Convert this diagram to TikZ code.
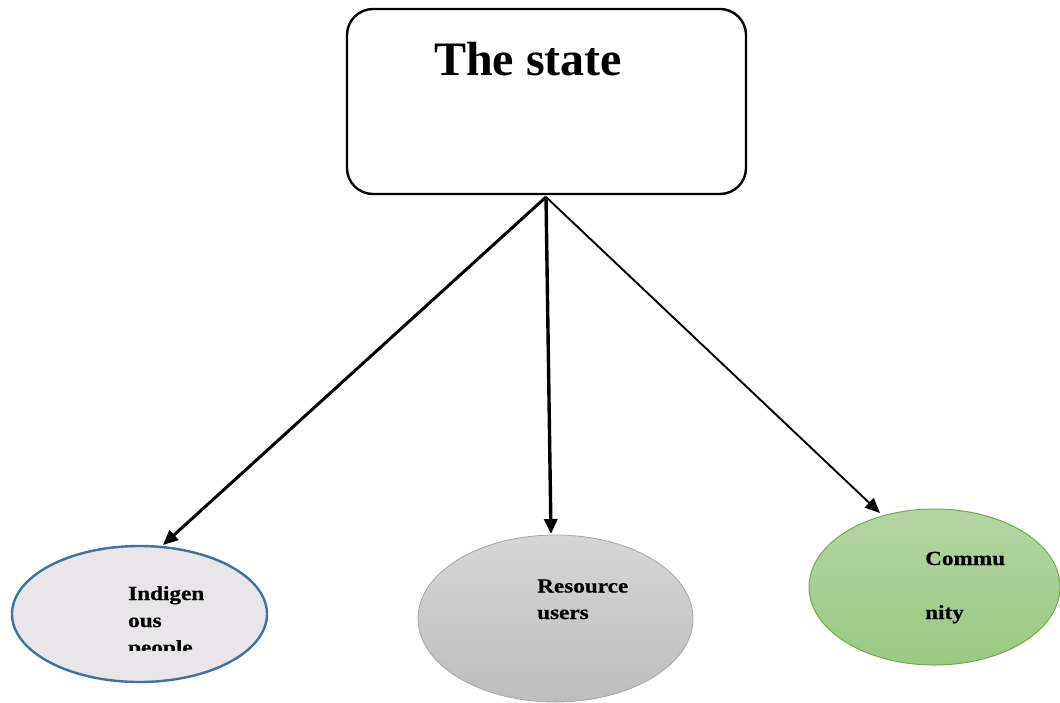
\documentclass[tikz,border=0pt]{standalone}
\usepackage{fontspec}
\setmainfont{Liberation Serif}
\newfontfamily\widebold[FakeStretch=1.16,FakeBold=0.6]{Liberation Serif}
\usetikzlibrary{arrows.meta,shapes.geometric}
\definecolor{indfill}{HTML}{E8E6E8}
\definecolor{indline}{HTML}{41719C}
\definecolor{restop}{HTML}{D6D6D6}
\definecolor{resbot}{HTML}{BDBDBD}
\definecolor{resline}{HTML}{A5A5A5}
\definecolor{comtop}{HTML}{B4D6A2}
\definecolor{combot}{HTML}{9BC882}
\definecolor{comline}{HTML}{70AD47}
\begin{document}
\begin{tikzpicture}[x=1pt,y=-1pt,
  statebox/.style={draw, line width=2.4pt, rounded corners=26pt, minimum width=399pt, minimum height=185pt, inner sep=0pt},
  oval/.style={ellipse, inner sep=0pt},
  label/.style={font=\widebold\bfseries\fontsize{20}{24}\selectfont, anchor=base west, inner sep=0pt},
  link/.style={-{Triangle[length=15pt,width=13pt]}}
]
\useasboundingbox (0,0) rectangle (1060,702);

% top box
\node[statebox] (state) at (546.5,101.5) {};
\node[font=\bfseries\fontsize{48}{56}\selectfont, anchor=base, inner sep=0pt] (statetxt) at (528,75) {The state};

% three groups
\node[oval, draw=indline, line width=2.4pt, fill=indfill, minimum width=255pt, minimum height=136pt] (ind) at (139.5,614) {};
\node[oval, draw=resline, line width=0.8pt, top color=restop, bottom color=resbot, minimum width=275pt, minimum height=167pt] (res) at (555.5,618.5) {};
\node[oval, draw=comline, line width=1pt, top color=comtop, bottom color=combot, minimum width=251pt, minimum height=156pt] (com) at (934.5,587) {};

% labels
\begin{scope}
  \clip (0,540) rectangle (300,650);
  \node[label] (ind1) at (128,600) {Indigen};
  \node[label] (ind2) at (128,627) {ous};
  \node[label] (ind3) at (128,654) {people};
\end{scope}
\node[label] (res1) at (537,592.5) {Resource};
\node[label] (res2) at (537,619) {users};
\node[label] (com1) at (925,565) {Commu};
\node[label] (com2) at (925,619) {nity};

% connectors
\coordinate (src) at (546,197);
\coordinate (tip1) at (163,545);
\coordinate (tip2) at (551,534);
\coordinate (tip3) at (880,513);
\draw[link, line width=3pt] (src) -- (tip1);
\draw[link, line width=3.4pt] (src) -- (tip2);
\draw[link, line width=1.9pt] (src) -- (tip3);
\end{tikzpicture}
\end{document}
